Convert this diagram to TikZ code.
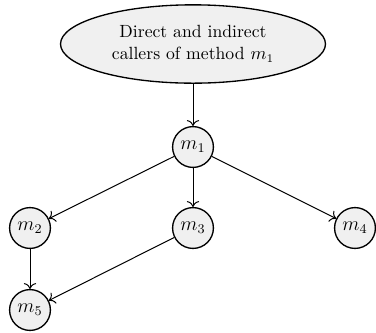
\documentclass[tikz,border=0pt]{standalone}
\usepackage{tikz}
\usetikzlibrary{positioning,arrows.meta,shapes.geometric}
\definecolor{nodefill}{HTML}{F0F0F0}

\begin{document}
\begin{tikzpicture}[
  meth/.style={circle,draw,thick,fill=nodefill,minimum size=24.5pt,inner sep=0pt,font=\fontsize{11.5}{13}\selectfont},
  goal/.style={ellipse,draw,thick,fill=nodefill,minimum width=159pt,minimum height=47pt,align=center,inner sep=0pt,font=\fontsize{10.6}{13}\selectfont},
  call/.style={-{To[length=3.5pt]},semithick}]
\useasboundingbox (0pt,0pt) rectangle (225.6pt,-199.2pt);
\node[goal] (q) at (115.8pt,-26.4pt) {Direct and indirect\\ callers of method $m_1$};
\node[meth] (m1) at (115.8pt,-88.2pt) {$m_1$};
\node[meth] (m2) at (18pt,-136.8pt) {$m_2$};\node[meth] (m3) at (115.8pt,-136.8pt) {$m_3$};\node[meth] (m4) at (213pt,-136.8pt) {$m_4$};
\node[meth] (m5) at (18pt,-186pt) {$m_5$};
\draw[call] (q) -- (m1);\draw[call] (m1) -- (m2);\draw[call] (m1) -- (m3);\draw[call] (m1) -- (m4);
\draw[call] (m2) -- (m5);\draw[call] (m3) -- (m5);
\end{tikzpicture}
\end{document}
